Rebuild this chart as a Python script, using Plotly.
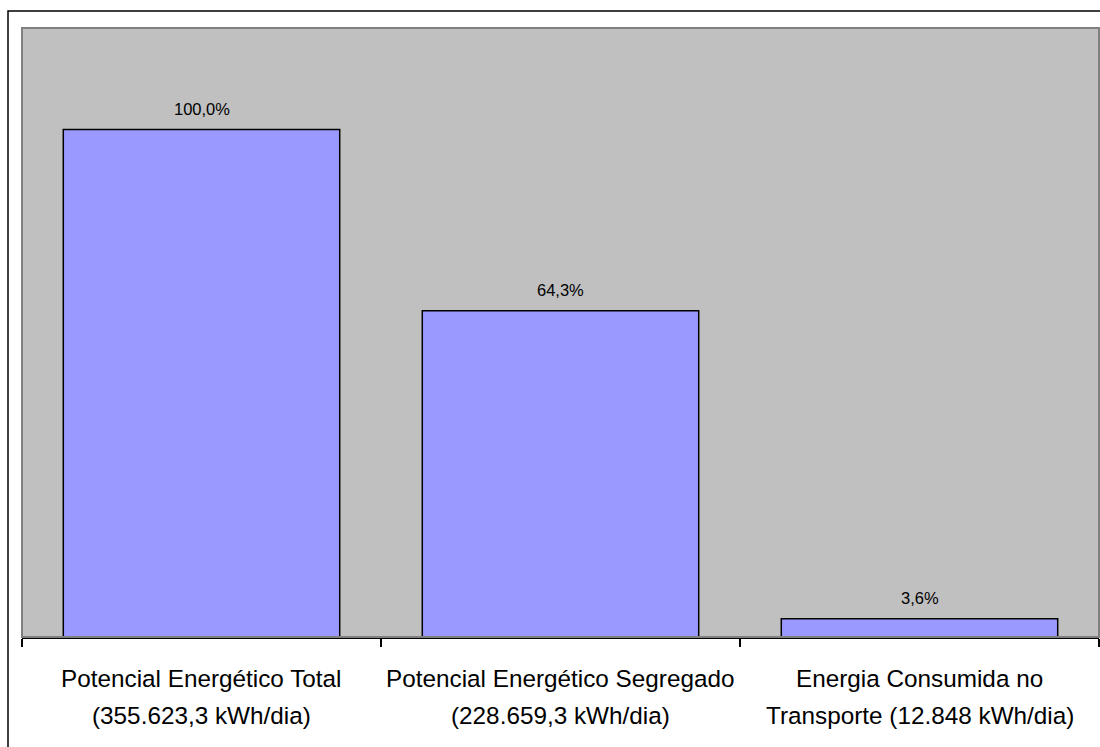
import plotly.graph_objects as go

# Energy figures per category (share of total potential, %)
line1 = ["Potencial Energético Total", "Potencial Energético Segregado", "Energia Consumida no"]
line2 = ["(355.623,3 kWh/dia)", "(228.659,3 kWh/dia)", "Transporte (12.848 kWh/dia)"]
categories = ["total", "segregado", "transporte"]
shares = [100.0, 64.3, 3.6]
share_labels = ["100,0%", "64,3%", "3,6%"]

W, H = 1100, 747
L, R, T, B = 22, 1, 28, 110
FONT = "Liberation Sans, Arial, sans-serif"

fig = go.Figure()
fig.add_trace(go.Bar(
    x=categories, y=shares,
    marker=dict(color="#9999FF", line=dict(color="black", width=1.5)),
    width=0.77, hoverinfo="skip",
))

pw = W - L - R
ph = H - T - B

annotations = []
for c, v, lab in zip(categories, shares, share_labels):
    annotations.append(dict(x=c, y=v, xref="x", yref="y", text=lab, showarrow=False,
                            yanchor="bottom", yshift=10,
                            font=dict(family=FONT, size=16.5, color="black")))
for c, a, b in zip(categories, line1, line2):
    annotations.append(dict(x=c, y=-41 / ph, xref="x", yref="paper", text=a,
                            showarrow=False, yanchor="middle",
                            font=dict(family=FONT, size=24.3, color="black")))
    annotations.append(dict(x=c, y=-78 / ph, xref="x", yref="paper", text=b,
                            showarrow=False, yanchor="middle",
                            font=dict(family=FONT, size=24.3, color="black")))

shapes = [
    # plot area frame
    dict(type="rect", xref="paper", yref="paper", x0=0, x1=1, y0=0, y1=1,
         line=dict(color="#808080", width=2), layer="above"),
    # outer chart border
    dict(type="rect", xref="paper", yref="paper",
         x0=(8 - L) / pw, x1=(1110 - L) / pw, y0=-(770 - (H - B)) / ph, y1=((H - B) - 11) / ph,
         line=dict(color="black", width=1.5)),
]

fig.update_layout(
    width=W, height=H,
    margin=dict(l=L, r=R, t=T, b=B),
    paper_bgcolor="white", plot_bgcolor="#C0C0C0",
    showlegend=False,
    bargap=0.23,
    xaxis=dict(type="category", tickson="boundaries", ticks="outside", ticklen=8,
               tickcolor="black", tickwidth=1.5, showticklabels=False,
               showline=True, linecolor="black", linewidth=1.5,
               showgrid=False, zeroline=False),
    yaxis=dict(range=[0, 120], visible=False, showgrid=False, zeroline=False),
    annotations=annotations,
    shapes=shapes,
)

fig.write_html("out.html")
